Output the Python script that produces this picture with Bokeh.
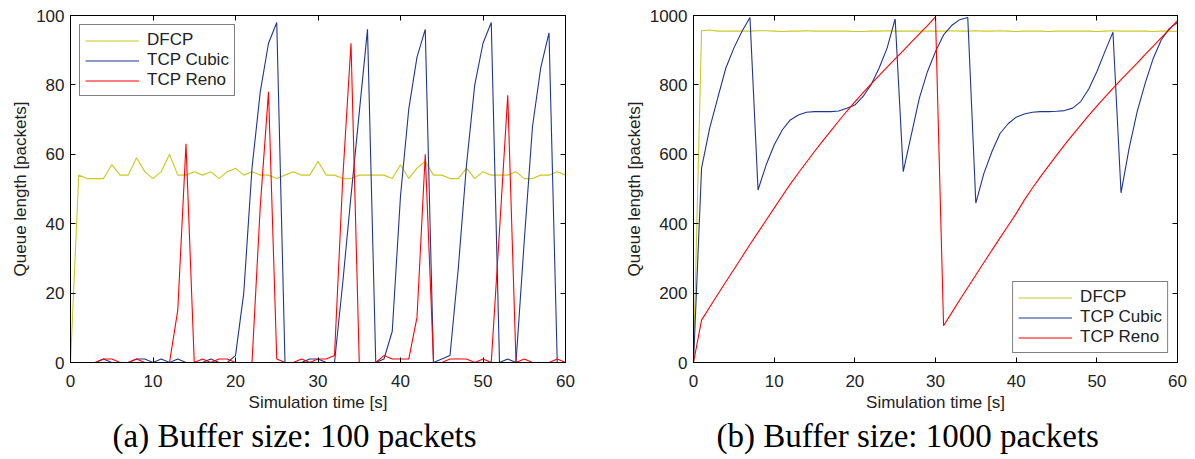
from bokeh.plotting import figure
from bokeh.models import Range1d, LinearAxis, FixedTicker, Legend, LegendItem
from bokeh.layouts import row
from bokeh.embed import file_html
from bokeh.resources import INLINE

# ---------------- data ----------------
time_s = list(range(61))

# (a) buffer 100 packets
dfcp_a = [0, 54, 53, 53, 53, 57, 54, 54, 59, 55, 53, 55, 60, 54, 54, 55, 54, 55, 53, 55,
          56, 54, 55, 54, 54, 53, 54, 55, 54, 54, 58, 54, 54, 53, 53, 54, 54, 54, 54, 53,
          57, 53, 56, 58, 54, 54, 53, 53, 56, 53, 55, 54, 54, 54, 55, 53, 53, 54, 54, 55, 54]
cubic_a = [0, 0, 0, 0, 1, 0, 0, 0, 1, 1, 0, 1, 0, 1, 0, 0, 0, 1, 0, 0,
           2, 20, 56, 78, 92, 98, 0, 0, 0, 1, 1, 0, 0, 23, 48, 72, 96, 0, 1, 9,
           48, 73, 88, 96, 0, 1, 2, 27, 57, 80, 92, 98, 0, 1, 0, 35, 68, 85, 95, 0, 0]
reno_a = [0, 0, 0, 0, 1, 1, 0, 0, 1, 0, 0, 0, 0, 15, 63, 0, 1, 0, 1, 1,
          0, 0, 0, 45, 78, 1, 0, 0, 1, 0, 1, 1, 2, 53, 92, 0, 0, 0, 2, 1,
          1, 1, 13, 60, 0, 0, 1, 1, 1, 0, 1, 0, 38, 77, 0, 1, 0, 0, 0, 1, 0]

# (b) buffer 1000 packets
dfcp_b = [0, 956, 958, 955, 955, 955, 955, 955, 956, 956, 955, 954, 955, 955, 956, 955, 955, 955, 955, 955,
          954, 954, 955, 955, 956, 955, 955, 955, 955, 955, 955, 955, 956, 955, 955, 956, 955, 955, 956, 955,
          954, 955, 955, 955, 954, 955, 955, 955, 955, 955, 954, 955, 956, 955, 955, 955, 955, 954, 955, 955, 954]
cubic_b = [0, 560, 675, 762, 848, 906, 954, 994, 497, 569, 627, 670, 699, 713, 721, 723, 723, 723, 725, 733,
           742, 766, 800, 848, 906, 990, 550, 656, 762, 838, 896, 944, 971, 988, 994, 459, 545, 608, 660, 688,
           707, 716, 721, 723, 723, 724, 726, 733, 752, 788, 838, 896, 952, 489, 617, 723, 805, 877, 930, 963, 980]
reno_b = [0, 122, 159, 196, 232, 268, 304, 340, 375, 410, 445, 480, 514, 546, 577, 608, 638, 667, 696, 724,
          751, 777, 802, 827, 851, 875, 899, 923, 947, 971, 996, 106, 143, 180, 216, 252, 288, 324, 359, 394,
          429, 468, 502, 535, 566, 597, 627, 656, 684, 712, 739, 765, 790, 815, 839, 863, 888, 912, 936, 960, 985]

series_names = ["DFCP", "TCP Cubic", "TCP Reno"]
x_ticks = [0, 10, 20, 30, 40, 50, 60]
y_ticks_a = [0, 20, 40, 60, 80, 100]
y_ticks_b = [0, 200, 400, 600, 800, 1000]
caption_a = "(a) Buffer size: 100 packets"
caption_b = "(b) Buffer size: 1000 packets"

colors = ["#c9c922", "#1f3590", "#ff0000"]
SANS = "Liberation Sans"
TXT = "#222222"


def style_axis(ax, tick_standoff=4, label_standoff=4, labels=True):
    ax.major_tick_in = 5
    ax.major_tick_out = 0
    ax.minor_tick_line_color = None
    ax.axis_line_color = "black"
    ax.major_tick_line_color = "black"
    if labels:
        ax.major_label_text_font = SANS
        ax.major_label_text_font_size = "17px"
        ax.major_label_text_color = TXT
        ax.major_label_standoff = tick_standoff
        ax.axis_label_text_font = SANS
        ax.axis_label_text_font_size = "17px"
        ax.axis_label_text_font_style = "normal"
        ax.axis_label_text_color = TXT
        ax.axis_label_standoff = label_standoff
    else:
        ax.major_label_text_font_size = "1px"
        ax.major_label_text_color = None
        ax.major_label_standoff = 0
        ax.axis_label = None


def make_fig(width, border_left, border_right, border_top, ymax, yticks, series, caption,
             cap_offset, legend_loc):
    p = figure(width=width, height=459, output_backend="svg", toolbar_location=None,
               x_range=Range1d(0, 60), y_range=Range1d(0, ymax),
               min_border_left=border_left, min_border_right=border_right,
               min_border_top=border_top, min_border_bottom=97,
               title=caption, title_location="below")
    p.title.text_font = "Liberation Serif"
    p.title.text_font_size = "33px"
    p.title.text_font_style = "normal"
    p.title.text_color = "black"
    p.title.align = "left"
    p.title.offset = cap_offset
    p.title.standoff = 3
    p.grid.visible = False
    p.outline_line_color = "black"
    p.outline_line_alpha = 1
    p.background_fill_color = "white"
    p.border_fill_color = "white"

    p.xaxis.ticker = FixedTicker(ticks=x_ticks)
    p.yaxis.ticker = FixedTicker(ticks=yticks)
    p.xaxis.axis_label = "Simulation time [s]"
    p.yaxis.axis_label = "Queue length [packets]"
    style_axis(p.xaxis[0], tick_standoff=12, label_standoff=3)
    style_axis(p.yaxis[0], tick_standoff=6, label_standoff=3)

    top_ax = LinearAxis(ticker=FixedTicker(ticks=x_ticks))
    style_axis(top_ax, labels=False)
    p.add_layout(top_ax, "above")
    right_ax = LinearAxis(ticker=FixedTicker(ticks=yticks))
    style_axis(right_ax, labels=False)
    p.add_layout(right_ax, "right")

    items = []
    for name, ys, c in zip(series_names, series, colors):
        r = p.line(time_s, ys, line_color=c, line_width=1.1)
        items.append(LegendItem(label=name, renderers=[r]))

    leg = Legend(items=items, location=legend_loc)
    leg.margin = 9
    leg.padding = 5
    leg.spacing = 0
    leg.glyph_width = 54
    leg.glyph_height = 19
    leg.label_height = 19
    leg.label_standoff = 8
    leg.label_text_font = SANS
    leg.label_text_font_size = "17px"
    leg.label_text_color = TXT
    leg.border_line_color = "black"
    leg.border_line_width = 1
    leg.background_fill_color = "white"
    leg.background_fill_alpha = 1
    p.add_layout(leg, "center")
    return p


p1 = make_fig(620, 70, 55, 15, 100, y_ticks_a, [dfcp_a, cubic_a, reno_a], caption_a, 42, "top_left")
p2 = make_fig(575, 73, 18, 14, 1000, y_ticks_b, [dfcp_b, cubic_b, reno_b], caption_b, 23, "bottom_right")

layout = row(p1, p2)
open("out.html", "w").write(file_html(layout, INLINE))
